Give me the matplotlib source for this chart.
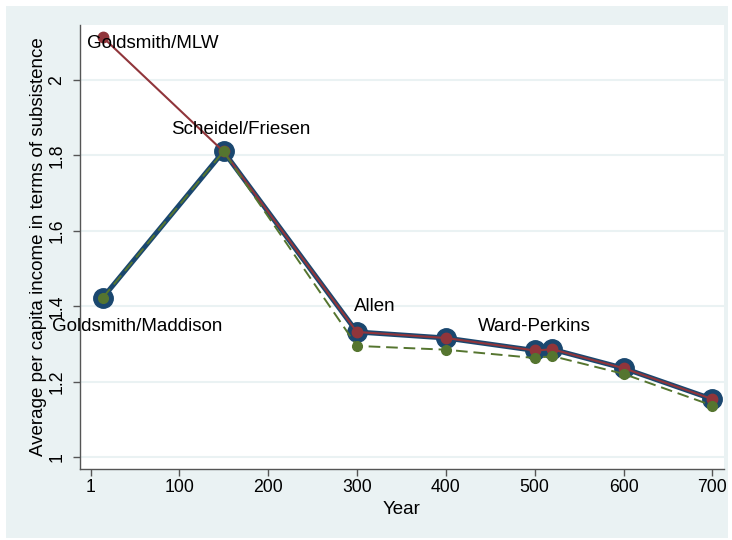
import matplotlib
matplotlib.use("Agg")
import matplotlib.pyplot as plt
from matplotlib.patches import Rectangle

# ---- data ----
years = [14, 150, 300, 400, 500, 520, 600, 700]
blue_vals = [1.422, 1.81, 1.332, 1.316, 1.283, 1.286, 1.236, 1.154]
red_vals = [2.113, 1.81, 1.332, 1.316, 1.283, 1.286, 1.236, 1.154]
green_vals = [1.422, 1.81, 1.295, 1.285, 1.263, 1.268, 1.221, 1.137]
point_labels = ["Goldsmith/Maddison", "Scheidel/Friesen", "Allen", "", "Ward-Perkins", "", "", ""]
mlw_label = "Goldsmith/MLW"
x_ticks = [1, 100, 200, 300, 400, 500, 600, 700]
y_ticks = [1, 1.2, 1.4, 1.6, 1.8, 2]
y_tick_labels = ["1", "1.2", "1.4", "1.6", "1.8", "2"]
x_title = "Year"
y_title = "Average per capita income in terms of subsistence"

# ---- style ----
BG = "#EAF2F3"
NAVY = "#1A476F"
MAROON = "#90353B"
GREEN = "#55752F"
plt.rcParams["font.family"] = ["Liberation Sans", "DejaVu Sans"]

W, H = 732, 540
fig = plt.figure(figsize=(W / 100, H / 100), dpi=100, facecolor="white")
fig.patches.append(Rectangle((6 / W, 2 / H), 722 / W, 532 / H, transform=fig.transFigure,
                             facecolor=BG, edgecolor="none", zorder=-10))
ax = fig.add_axes([79.5 / W, (H - 469) / H, (724 - 79.5) / W, (469 - 25) / H])
ax.set_zorder(1)
ax.set_facecolor("white")

ax.set_xlim(-12, 713)
ax.set_ylim(0.969, 2.145)
ax.set_xticks(x_ticks)
ax.set_xticklabels([str(t) for t in x_ticks])
ax.set_yticks(y_ticks)
ax.set_yticklabels(y_tick_labels, rotation=90, va="center")
ax.grid(axis="y", color=BG, linewidth=1.5, zorder=0)
ax.set_axisbelow(True)

for s in ["top", "right"]:
    ax.spines[s].set_visible(False)
for s in ["left", "bottom"]:
    ax.spines[s].set_color("#555555")
    ax.spines[s].set_linewidth(1.0)
ax.tick_params(axis="both", direction="out", length=5, width=1, color="#555555",
               labelsize=12.7, labelcolor="black")
ax.tick_params(axis="x", pad=2)
ax.tick_params(axis="y", pad=5)

# series
ax.plot(years, blue_vals, color=NAVY, linewidth=3.6, marker="o", markersize=14,
        markerfacecolor=NAVY, markeredgecolor=NAVY, zorder=3)
ax.plot(years, red_vals, color=MAROON, linewidth=1.5, marker="o", markersize=7.5,
        markerfacecolor=MAROON, markeredgecolor=MAROON, zorder=4)
ax.plot(years, green_vals, color=GREEN, linewidth=1.4, linestyle=(0, (6, 3)),
        marker="o", markersize=7, markerfacecolor=GREEN, markeredgecolor=GREEN, zorder=5)

# labels (offsets in pixels from the point)
offsets = {0: (-51, -29), 1: (-52, 22), 2: (-3, 25), 4: (-57, 24)}
for i, lab in enumerate(point_labels):
    if lab:
        ax.annotate(lab, (years[i], blue_vals[i]), xytext=offsets[i],
                    textcoords="offset pixels", ha="left", va="center",
                    fontsize=13.5, color="black", zorder=6)
ax.annotate(mlw_label, (years[0], red_vals[0]), xytext=(-16, -6),
            textcoords="offset pixels", ha="left", va="center",
            fontsize=13.5, color="black", zorder=6)

ax.set_xlabel(x_title, fontsize=13.5, va="center")
ax.xaxis.set_label_coords(0.5, (469 - 510) / 444)
ax.set_ylabel(y_title, fontsize=13.5, va="center")
ax.yaxis.set_label_coords((39 - 79.5) / 644.5, 0.5)

fig.savefig("out.png", dpi=100, facecolor="white")
